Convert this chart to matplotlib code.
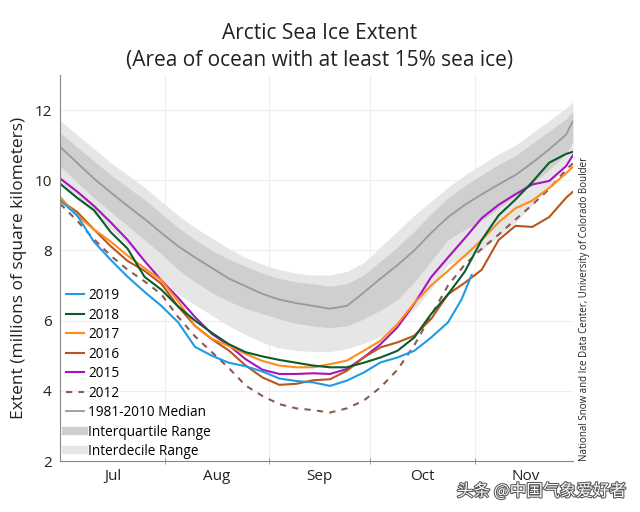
import numpy as np
import matplotlib
matplotlib.use("Agg")
import matplotlib.pyplot as plt
import matplotlib.patheffects as pe

plt.rcParams['font.family'] = ['Open Sans', 'DejaVu Sans']

# ── 数据 (日序: 0 = 7月1日) ────────────────────
days = [0, 5, 10, 15, 20, 25, 30, 35, 40, 45, 50, 55, 60, 65, 70, 75, 80, 85,
        90, 95, 100, 105, 110, 115, 120, 125, 130, 135, 140, 145, 150, 152]

median = [10.95, 10.5, 10.05, 9.65, 9.27, 8.9, 8.5, 8.12, 7.8, 7.5, 7.2, 6.98,
          6.76, 6.6, 6.5, 6.42, 6.34, 6.42, 6.8, 7.2, 7.58, 8.0, 8.5, 8.95,
          9.3, 9.6, 9.88, 10.15, 10.5, 10.88, 11.3, 11.67]
q25 = [10.4, 9.95, 9.5, 9.1, 8.7, 8.3, 7.9, 7.45, 7.1, 6.8, 6.55, 6.35, 6.2,
       6.05, 5.92, 5.85, 5.8, 5.85, 6.05, 6.3, 6.6, 7.1, 7.7, 8.3, 8.6, 8.85,
       9.2, 9.55, 9.9, 10.3, 10.75, 11.1]
q75 = [11.35, 10.95, 10.55, 10.15, 9.8, 9.45, 9.05, 8.65, 8.3, 8.0, 7.75, 7.55,
       7.35, 7.2, 7.1, 7.05, 6.98, 7.05, 7.3, 7.7, 8.1, 8.55, 9.05, 9.5, 9.85,
       10.15, 10.45, 10.7, 11.05, 11.4, 11.75, 11.95]
d10 = [9.95, 9.5, 9.05, 8.6, 8.15, 7.7, 7.2, 6.75, 6.45, 6.15, 5.85, 5.6, 5.38,
       5.22, 5.15, 5.12, 5.12, 5.2, 5.35, 5.55, 5.85, 6.3, 6.9, 7.6, 7.8, 8.0,
       8.4, 8.8, 9.3, 9.8, 10.5, 10.86]
d90 = [11.7, 11.3, 10.9, 10.5, 10.15, 9.8, 9.4, 9.0, 8.65, 8.35, 8.05, 7.8,
       7.6, 7.45, 7.35, 7.3, 7.3, 7.4, 7.65, 8.1, 8.55, 9.0, 9.4, 9.8, 10.15,
       10.45, 10.75, 11.0, 11.35, 11.7, 12.05, 12.24]

ext_2019 = [9.43, 9.0, 8.25, 7.73, 7.25, 6.82, 6.42, 5.95, 5.25, 5.0, 4.8,
            4.7, 4.55, 4.35, 4.28, 4.24, 4.14, 4.29, 4.52, 4.81, 4.95, 5.14,
            5.52, 5.95, 6.6, 7.3]
days_2019 = days[:24] + [119, 122]      # 2019 数据截至 10 月底
ext_2018 = [9.9, 9.5, 9.15, 8.52, 8.05, 7.25, 6.88, 6.4, 6.0, 5.65, 5.33, 5.1,
            4.98, 4.88, 4.8, 4.72, 4.67, 4.67, 4.8, 4.95, 5.14, 5.52, 6.19,
            6.75, 7.4, 8.3, 9.0, 9.45, 9.95, 10.5, 10.75, 10.81]
ext_2017 = [9.52, 9.0, 8.6, 8.25, 7.85, 7.5, 7.15, 6.55, 5.85, 5.48, 5.28,
            5.05, 4.85, 4.72, 4.67, 4.67, 4.76, 4.86, 5.14, 5.43, 5.9, 6.5,
            7.0, 7.42, 7.85, 8.3, 8.8, 9.2, 9.42, 9.78, 10.2, 10.38]
ext_2016 = [9.43, 9.1, 8.6, 8.12, 7.7, 7.42, 7.05, 6.4, 5.85, 5.47, 5.15, 4.72,
            4.38, 4.17, 4.2, 4.3, 4.33, 4.57, 4.95, 5.24, 5.38, 5.57, 6.05,
            6.75, 7.08, 7.45, 8.3, 8.7, 8.67, 8.95, 9.5, 9.67]
ext_2015 = [10.05, 9.68, 9.27, 8.8, 8.3, 7.7, 7.15, 6.65, 6.1, 5.62, 5.3, 4.9,
            4.6, 4.48, 4.48, 4.5, 4.48, 4.62, 4.95, 5.33, 5.81, 6.48, 7.24,
            7.8, 8.35, 8.92, 9.3, 9.6, 9.88, 9.98, 10.4, 10.71]
ext_2012 = [9.33, 8.85, 8.32, 7.85, 7.45, 7.12, 6.75, 6.1, 5.55, 5.1, 4.65,
            4.15, 3.85, 3.62, 3.5, 3.45, 3.38, 3.5, 3.72, 4.1, 4.6, 5.3, 6.15,
            7.0, 7.6, 8.05, 8.45, 8.88, 9.3, 9.75, 10.3, 10.48]

month_names = ['Jul', 'Aug', 'Sep', 'Oct', 'Nov']
month_starts = [0, 31, 62, 92, 123, 153]

# ── 画图 ───────────────────────────────────
fig = plt.figure(figsize=(6.4, 5.12), dpi=100)
ax = fig.add_axes([0.094, 0.0996, 0.801, 0.754])

ax.fill_between(days, d10, d90, color='#e6e6e6', lw=0, label='Interdecile Range')
ax.fill_between(days, q25, q75, color='#cfcfcf', lw=0, label='Interquartile Range')
ax.plot(days, median, color='#999999', lw=1.3, label='1981-2010 Median')

ax.plot(days, ext_2012, color='#8b5a50', lw=1.5, ls=(0, (3, 3)), label='2012')
ax.plot(days, ext_2015, color='#a812c0', lw=1.5, label='2015')
ax.plot(days, ext_2016, color='#b9561b', lw=1.5, label='2016')
ax.plot(days, ext_2017, color='#ff8c1a', lw=1.5, label='2017')
ax.plot(days, ext_2018, color='#0a5c2a', lw=1.5, label='2018')
ax.plot(days_2019, ext_2019, color='#1f9be6', lw=1.5, label='2019')

ax.set_xlim(0, 152)
ax.set_ylim(2, 13)
ax.set_yticks([2, 4, 6, 8, 10, 12])
mids = [(a + b) / 2 for a, b in zip(month_starts[:-1], month_starts[1:])]
ax.set_xticks(mids)
ax.set_xticklabels(month_names)
ax.set_xticks(month_starts[1:-1], minor=True)
ax.tick_params(axis='both', which='major', length=0, labelsize=11, colors='#222222', pad=6)
ax.tick_params(axis='x', which='minor', length=4, direction='inout', color='#888888')
ax.grid(True, axis='y', color='#eeeeee', lw=0.8)
ax.grid(True, axis='x', which='minor', color='#eeeeee', lw=0.8)
ax.set_axisbelow(True)
for s in ['top', 'right']:
    ax.spines[s].set_visible(False)
for s in ['left', 'bottom']:
    ax.spines[s].set_color('#888888')

ax.set_ylabel('Extent (millions of square kilometers)', fontsize=12.5, color='#222222', labelpad=5)
fig.suptitle('Arctic Sea Ice Extent\n(Area of ocean with at least 15% sea ice)',
             fontsize=15, y=0.955, color='#222222', linespacing=1.35)

handles, labels = ax.get_legend_handles_labels()
order = ['2019', '2018', '2017', '2016', '2015', '2012', '1981-2010 Median',
         'Interquartile Range', 'Interdecile Range']
hmap = dict(zip(labels, handles))
proxy = []
for lab in order:
    if lab == 'Interquartile Range':
        proxy.append(plt.Line2D([], [], color='#cfcfcf', lw=6))
    elif lab == 'Interdecile Range':
        proxy.append(plt.Line2D([], [], color='#e6e6e6', lw=6))
    else:
        proxy.append(hmap[lab])
ax.legend(proxy, order, loc='lower left', bbox_to_anchor=(-0.012, -0.027), frameon=False,
          fontsize=9.8, labelspacing=0.33, handlelength=1.3, handletextpad=0.3)

fig.text(0.905, 0.1, 'National Snow and Ice Data Center, University of Colorado Boulder',
         rotation=90, fontsize=7, ha='left', va='bottom', color='#222222')

fig.text(0.978, 0.04, '头条 @中国气象爱好者', ha='right', va='center', fontsize=12,
         family=['Noto Sans CJK SC', 'DejaVu Sans'], color='white',
         path_effects=[pe.withStroke(linewidth=1.5, foreground='#555555')])

fig.savefig('out.png', dpi=100)
